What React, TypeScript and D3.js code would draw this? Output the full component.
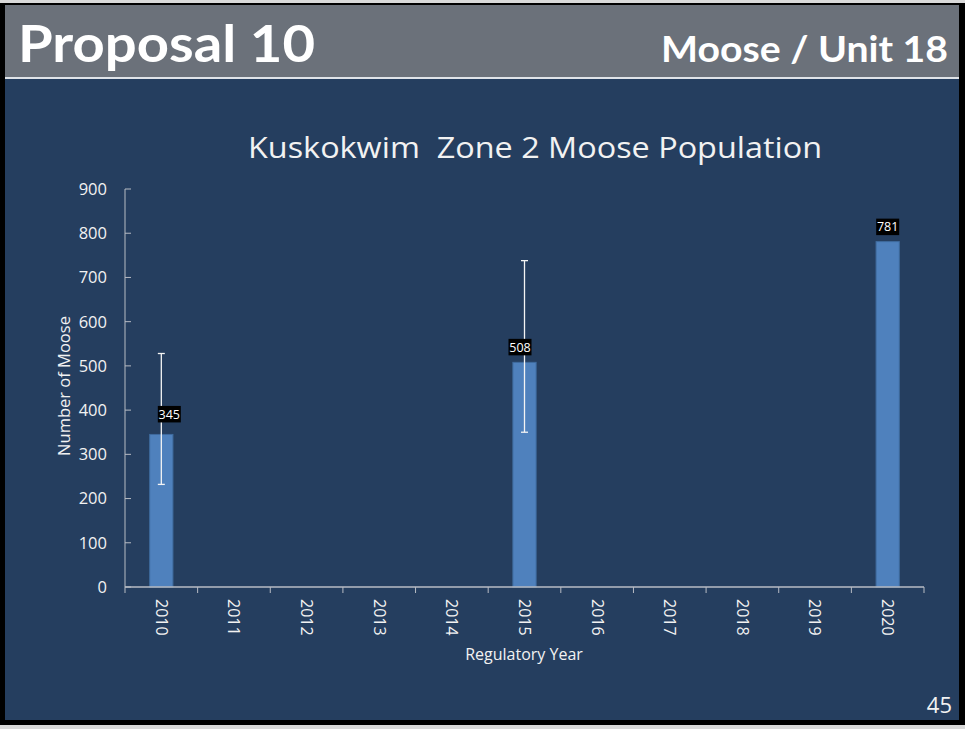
import React from "react";
import * as d3 from "d3";

const years = ["2010","2011","2012","2013","2014","2015","2016","2017","2018","2019","2020"];
const estimates: (number | null)[] = [345, null, null, null, null, 508, null, null, null, null, 781];
const errLow: (number | null)[] = [232, null, null, null, null, 350, null, null, null, null, null];
const errHigh: (number | null)[] = [528, null, null, null, null, 738, null, null, null, null, null];
const yTicks = [0, 100, 200, 300, 400, 500, 600, 700, 800, 900];

const W = 965, H = 729;
const BG = "#253e5f";
const HEADER = "#6b717a";
const TXT = "#f2f2f2";
const AXIS = "#b8bcc4";
const FONT = "'Open Sans', 'Noto Sans', sans-serif";

// label nudges (Excel-placed labels), in px
const labelDx: Record<string, number> = { "2010": 8, "2015": -4.5, "2020": 0 };
const labelGap: Record<string, number> = { "2010": 12, "2015": 7, "2020": 6.5 };

export default function App() {
  const left = 125, right = 924, top = 189, bottom = 587;
  const x = d3.scaleBand<string>().domain(years).range([left, right]).paddingInner(0.68).paddingOuter(0.34);
  const xStep = d3.scaleBand<string>().domain(years).range([left, right]);
  const y = d3.scaleLinear().domain([0, 900]).range([bottom, top]);
  const bw = x.bandwidth();

  return (
    <svg width={W} height={H} style={{ position: "absolute", left: 0, top: 0 }} fontFamily={FONT}>
      <rect x={0} y={0} width={W} height={H} fill="#000" />
      <rect x={0} y={0} width={W} height={3} fill="#d9d9d9" />
      <rect x={0} y={725} width={W} height={4} fill="#d9d9d9" />
      <rect x={5} y={5} width={954} height={73} fill={HEADER} />
      <rect x={5} y={77} width={954} height={2} fill="#dfe3e8" />
      <rect x={5} y={79} width={954} height={641} fill={BG} />

      <text x={18} y={62} fill="#fff" fontFamily="Lato, 'Open Sans', sans-serif" fontWeight={700} fontSize={52} textLength={297} lengthAdjust="spacingAndGlyphs">Proposal 10</text>
      <text x={948} y={62} fill="#fff" textAnchor="end" fontFamily="Lato, 'Open Sans', sans-serif" fontWeight={700} fontSize={37} textLength={287} lengthAdjust="spacingAndGlyphs">Moose / Unit 18</text>

      <text x={535} y={158} fill={TXT} textAnchor="middle" fontSize={30} textLength={574} lengthAdjust="spacingAndGlyphs" style={{ whiteSpace: "pre" }}>{"Kuskokwim  Zone 2 Moose Population"}</text>

      {/* y axis */}
      <line x1={left} x2={left} y1={top} y2={bottom} stroke={AXIS} strokeWidth={1} />
      {yTicks.map((t) => (
        <g key={t}>
          <line x1={left} x2={left + 6} y1={y(t)} y2={y(t)} stroke={AXIS} />
          <text x={107} y={y(t)} dy="0.36em" textAnchor="end" fill={TXT} fontSize={16.5}>{t}</text>
        </g>
      ))}
      <text transform={`translate(64,${(top + bottom) / 2 - 2}) rotate(-90)`} textAnchor="middle" fill={TXT} fontSize={16.5} dy="0.35em">Number of Moose</text>

      {/* bars */}
      {years.map((yr, i) => {
        const v = estimates[i];
        if (v == null) return null;
        return (
          <rect key={yr} x={x(yr)!} y={y(v)} width={bw} height={bottom - y(v)} fill="#4f81bd" stroke="#3f6b9e" strokeWidth={1} />
        );
      })}

      {/* x axis */}
      <line x1={left} x2={right} y1={bottom} y2={bottom} stroke={AXIS} strokeWidth={1.5} />
      {years.concat(["end"]).map((yr, i) => {
        const xx = i < years.length ? xStep(yr)! : right;
        return <line key={"t" + yr} x1={xx} x2={xx} y1={bottom} y2={bottom + 6} stroke={AXIS} />;
      })}
      {years.map((yr) => {
        const cx = xStep(yr)! + xStep.bandwidth() / 2;
        return (
          <text key={"l" + yr} transform={`translate(${cx},599) rotate(90)`} fill={TXT} fontSize={16} dy="0.35em">{yr}</text>
        );
      })}
      <text x={524} y={660} textAnchor="middle" fill={TXT} fontSize={16}>Regulatory Year</text>

      {/* error bars */}
      {years.map((yr, i) => {
        const lo = errLow[i], hi = errHigh[i];
        if (lo == null || hi == null) return null;
        const cx = x(yr)! + bw / 2;
        return (
          <g key={"e" + yr} stroke="#f4f4f4" strokeWidth={1.3}>
            <line x1={cx} x2={cx} y1={y(hi)} y2={y(lo)} />
            <line x1={cx - 3.5} x2={cx + 3.5} y1={y(hi)} y2={y(hi)} />
            <line x1={cx - 3.5} x2={cx + 3.5} y1={y(lo)} y2={y(lo)} />
          </g>
        );
      })}

      {/* data labels */}
      {years.map((yr, i) => {
        const v = estimates[i];
        if (v == null) return null;
        const cx = x(yr)! + bw / 2 + (labelDx[yr] || 0);
        const by = y(v) - (labelGap[yr] || 7);
        const bwid = 23, bh = 16.5;
        return (
          <g key={"d" + yr}>
            <rect x={cx - bwid / 2} y={by - bh} width={bwid} height={bh} fill="#000" />
            <text x={cx} y={by - bh / 2} dy="0.36em" textAnchor="middle" fill="#fff" fontSize={12.5}>{v}</text>
          </g>
        );
      })}

      <text x={952} y={713} textAnchor="end" fill={TXT} fontSize={22}>45</text>
    </svg>
  );
}
